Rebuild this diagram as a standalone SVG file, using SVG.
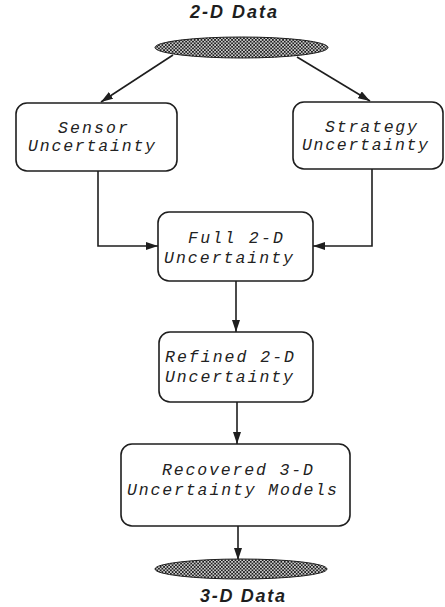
<svg xmlns="http://www.w3.org/2000/svg" width="445" height="607" viewBox="0 0 445 607">
  <style>
    .box { fill: #ffffff; stroke: #1e1e1e; stroke-width: 1.6; }
    .lbl { font-family: "Liberation Mono", "DejaVu Sans Mono", monospace; font-style: italic; font-size: 16.5px; fill: #222222; }
    .ttl { font-family: "Liberation Sans", Arial, sans-serif; font-style: italic; font-weight: bold; font-size: 18px; fill: #1e1e1e; }
    .edge { fill: none; stroke: #1e1e1e; stroke-width: 1.6; }
    .data { fill: url(#dots); stroke: #1e1e1e; stroke-width: 1; }
  </style>
  <defs>
    <pattern id="dots" width="3.4" height="3.4" patternUnits="userSpaceOnUse">
      <rect width="3.4" height="3.4" fill="#1e1e1e"/>
      <rect x="0.1" y="0.1" width="1.5" height="1.5" fill="#ffffff"/>
      <rect x="1.8" y="1.8" width="1.5" height="1.5" fill="#ffffff"/>
    </pattern>
    <marker id="arrow" viewBox="0 0 12 8" refX="12" refY="4" markerWidth="12" markerHeight="8" markerUnits="userSpaceOnUse" orient="auto">
      <path d="M0,0 L12,4 L0,8 Z" fill="#1e1e1e"/>
    </marker>
  </defs>

  <g id="connectors">
    <line class="edge" x1="173" y1="55" x2="101" y2="102" marker-end="url(#arrow)"/>
    <line class="edge" x1="297" y1="57" x2="370" y2="101" marker-end="url(#arrow)"/>
    <polyline class="edge" points="98,171 98,246 158,246" marker-end="url(#arrow)"/>
    <polyline class="edge" points="372,169 372,246 313,246" marker-end="url(#arrow)"/>
    <line class="edge" x1="236" y1="281" x2="236" y2="332" marker-end="url(#arrow)"/>
    <line class="edge" x1="237" y1="402" x2="237" y2="444" marker-end="url(#arrow)"/>
    <line class="edge" x1="238" y1="526" x2="238" y2="560" marker-end="url(#arrow)"/>
  </g>

  <g id="data-2d">
    <text class="ttl" x="190" y="18" textLength="87" lengthAdjust="spacing">2-D  Data</text>
    <ellipse class="data" cx="241.5" cy="47.5" rx="86.5" ry="10.5"/>
  </g>

  <g id="sensor">
    <rect class="box" x="16" y="103" width="161" height="68" rx="11"/>
    <text class="lbl" x="58" y="133" textLength="70" lengthAdjust="spacing">Sensor</text>
    <text class="lbl" x="28" y="151" textLength="127" lengthAdjust="spacing">Uncertainty</text>
  </g>

  <g id="strategy">
    <rect class="box" x="293" y="102" width="150" height="67" rx="11"/>
    <text class="lbl" x="325" y="132" textLength="92" lengthAdjust="spacing">Strategy</text>
    <text class="lbl" x="302" y="150" textLength="126" lengthAdjust="spacing">Uncertainty</text>
  </g>

  <g id="full-2d">
    <rect class="box" x="158" y="212" width="155" height="69" rx="11"/>
    <text class="lbl" x="188" y="243" textLength="95" lengthAdjust="spacing">Full 2-D</text>
    <text class="lbl" x="164" y="263" textLength="129" lengthAdjust="spacing">Uncertainty</text>
  </g>

  <g id="refined-2d">
    <rect class="box" x="159" y="332" width="154" height="70" rx="11"/>
    <text class="lbl" x="165" y="362" textLength="129" lengthAdjust="spacing">Refined 2-D</text>
    <text class="lbl" x="165" y="382" textLength="128" lengthAdjust="spacing">Uncertainty</text>
  </g>

  <g id="recovered-3d">
    <rect class="box" x="121" y="444" width="229" height="82" rx="11"/>
    <text class="lbl" x="162" y="475" textLength="151" lengthAdjust="spacing">Recovered 3-D</text>
    <text class="lbl" x="127" y="495" textLength="210" lengthAdjust="spacing">Uncertainty Models</text>
  </g>

  <g id="data-3d">
    <ellipse class="data" cx="241" cy="569" rx="86" ry="10"/>
    <text class="ttl" x="200" y="602" textLength="85" lengthAdjust="spacing">3-D  Data</text>
  </g>
</svg>
